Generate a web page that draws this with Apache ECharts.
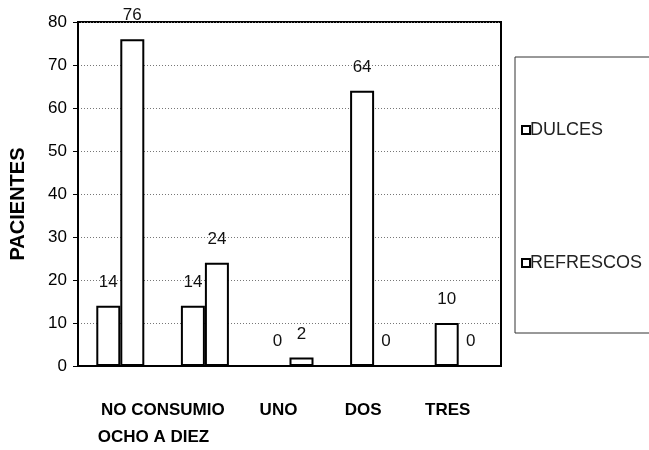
<!DOCTYPE html>
<html>
<head>
<meta charset="utf-8">
<script src="https://cdn.jsdelivr.net/npm/echarts@6/dist/echarts.min.js"></script>
<style>
  html, body { margin: 0; padding: 0; background: #fff; }
  #chart { width: 649px; height: 450px; }
</style>
</head>
<body>
<div id="chart"></div>
<script>
// datos
const categorias = ['NO CONSUMIO', 'OCHO A DIEZ', 'UNO', 'DOS', 'TRES'];
const dulces = [14, 14, 0, 64, 10];
const refrescos = [76, 24, 2, 0, 0];
const ticksY = [0, 10, 20, 30, 40, 50, 60, 70, 80];

const fuente = 'Liberation Sans';

const chart = echarts.init(document.getElementById('chart'));

const etiqueta = {
  show: true,
  position: 'top',
  distance: 15,
  color: '#111',
  fontSize: 17,
  fontFamily: fuente
};

const estiloBarra = {
  color: '#fff',
  borderColor: '#000',
  borderWidth: 2
};

const textoEje = { fontSize: 17, fontWeight: 'bold', color: '#000', fontFamily: fuente };

const option = {
  animation: false,
  backgroundColor: '#fff',
  grid: {
    left: 74,
    right: 148,
    top: 22,
    bottom: 84,
    show: true,
    borderColor: '#000',
    borderWidth: 2
  },
  legend: {
    orient: 'vertical',
    left: 515,
    top: 57,
    padding: [64, 40, 61, 6],
    itemGap: 115,
    itemWidth: 8,
    itemHeight: 8,
    borderColor: '#333',
    borderWidth: 1,
    icon: 'rect',
    itemStyle: { borderWidth: 2 },
    textStyle: { fontSize: 18, color: '#222', fontFamily: fuente, padding: [0, 0, 0, -5] },
    data: ['DULCES', 'REFRESCOS']
  },
  xAxis: {
    type: 'category',
    data: categorias,
    axisLine: { show: true, lineStyle: { color: '#000', width: 2 } },
    axisTick: { show: false },
    axisLabel: {
      interval: 0,
      margin: 36,
      formatter: function (v, i) {
        if (i === 0) return '{a|' + v + '}';
        if (i === 1) return '{b|' + v + '}';
        return '{c|' + v + '}';
      },
      rich: {
        a: Object.assign({ padding: [0, 0, 0, 85] }, textoEje),
        b: Object.assign({ padding: [27, 103, 0, 0] }, textoEje),
        c: Object.assign({ padding: [0, 22, 0, 0] }, textoEje)
      }
    }
  },
  yAxis: {
    type: 'value',
    min: ticksY[0],
    max: ticksY[ticksY.length - 1],
    interval: 10,
    name: 'PACIENTES',
    nameLocation: 'middle',
    nameGap: 50,
    nameTextStyle: { fontSize: 20, fontWeight: 'bold', color: '#000', fontFamily: fuente, padding: [0, 20, 0, 0] },
    axisLine: { show: true, lineStyle: { color: '#000', width: 2 } },
    axisTick: { show: true, length: 5, lineStyle: { color: '#000' } },
    axisLabel: { fontSize: 17, color: '#000', margin: 11, fontFamily: fuente },
    splitLine: { show: true, lineStyle: { color: '#777', type: [1, 2], width: 1 } }
  },
  series: [
    {
      name: 'DULCES',
      type: 'bar',
      barWidth: 24,
      barGap: '0%',
      itemStyle: estiloBarra,
      label: etiqueta,
      data: dulces
    },
    {
      name: 'REFRESCOS',
      type: 'bar',
      barWidth: 24,
      barGap: '0%',
      itemStyle: estiloBarra,
      label: etiqueta,
      data: refrescos
    }
  ]
};

chart.setOption(option);

window.addEventListener('resize', function () {
  chart.resize();
});
</script>
</body>
</html>
